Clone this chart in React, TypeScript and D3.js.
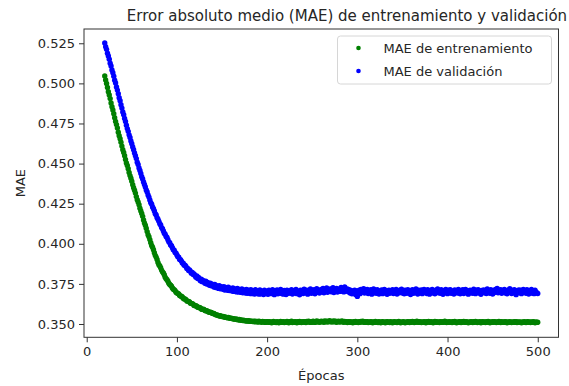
import React, { useRef, useEffect } from 'react';
import * as d3 from 'd3';

// one point per epoch, 20..500
const epochs = d3.range(20, 501);

const trainMAE = [
  0.5046, 0.5021, 0.4999, 0.4974, 0.4948, 0.4928, 0.4905, 0.4878, 0.4854, 0.4834,
  0.4811, 0.4786, 0.4763, 0.4743, 0.4722, 0.4696, 0.4674, 0.4655, 0.4633, 0.4609,
  0.4587, 0.4569, 0.4549, 0.4525, 0.4504, 0.4488, 0.4468, 0.4445, 0.4425, 0.4409,
  0.4390, 0.4368, 0.4349, 0.4334, 0.4316, 0.4294, 0.4275, 0.4261, 0.4243, 0.4222,
  0.4204, 0.4189, 0.4171, 0.4149, 0.4130, 0.4116, 0.4097, 0.4076, 0.4057, 0.4044,
  0.4026, 0.4007, 0.3990, 0.3978, 0.3963, 0.3944, 0.3928, 0.3917, 0.3902, 0.3884,
  0.3870, 0.3862, 0.3851, 0.3836, 0.3825, 0.3818, 0.3807, 0.3792, 0.3782, 0.3776,
  0.3766, 0.3754, 0.3746, 0.3742, 0.3735, 0.3724, 0.3717, 0.3714, 0.3708, 0.3698,
  0.3693, 0.3691, 0.3687, 0.3678, 0.3674, 0.3673, 0.3669, 0.3660, 0.3656, 0.3656,
  0.3652, 0.3644, 0.3641, 0.3641, 0.3637, 0.3630, 0.3627, 0.3627, 0.3624, 0.3616,
  0.3613, 0.3614, 0.3611, 0.3604, 0.3602, 0.3603, 0.3600, 0.3593, 0.3591, 0.3592,
  0.3590, 0.3584, 0.3582, 0.3583, 0.3580, 0.3575, 0.3573, 0.3574, 0.3572, 0.3567,
  0.3565, 0.3566, 0.3561, 0.3558, 0.3557, 0.3555, 0.3553, 0.3550, 0.3551, 0.3548,
  0.3546, 0.3547, 0.3545, 0.3542, 0.3543, 0.3540, 0.3539, 0.3540, 0.3537, 0.3535,
  0.3536, 0.3534, 0.3532, 0.3533, 0.3530, 0.3529, 0.3531, 0.3527, 0.3526, 0.3528,
  0.3524, 0.3525, 0.3523, 0.3521, 0.3524, 0.3520, 0.3521, 0.3519, 0.3518, 0.3521,
  0.3517, 0.3519, 0.3516, 0.3518, 0.3515, 0.3517, 0.3514, 0.3518, 0.3513, 0.3516,
  0.3512, 0.3517, 0.3513, 0.3515, 0.3511, 0.3516, 0.3512, 0.3514, 0.3510, 0.3515,
  0.3512, 0.3514, 0.3510, 0.3515, 0.3511, 0.3508, 0.3513, 0.3516, 0.3510, 0.3512,
  0.3509, 0.3514, 0.3511, 0.3507, 0.3513, 0.3516, 0.3510, 0.3512, 0.3515, 0.3509,
  0.3513, 0.3510, 0.3516, 0.3512, 0.3508, 0.3514, 0.3511, 0.3517, 0.3509, 0.3513,
  0.3510, 0.3515, 0.3512, 0.3508, 0.3514, 0.3510, 0.3516, 0.3513, 0.3509, 0.3512,
  0.3515, 0.3511, 0.3514, 0.3509, 0.3516, 0.3512, 0.3518, 0.3513, 0.3510, 0.3515,
  0.3511, 0.3517, 0.3513, 0.3510, 0.3515, 0.3519, 0.3512, 0.3516, 0.3511, 0.3514,
  0.3518, 0.3513, 0.3516, 0.3511, 0.3519, 0.3514, 0.3517, 0.3512, 0.3515, 0.3520,
  0.3514, 0.3517, 0.3512, 0.3516, 0.3519, 0.3513, 0.3517, 0.3511, 0.3515, 0.3518,
  0.3512, 0.3516, 0.3513, 0.3519, 0.3514, 0.3511, 0.3516, 0.3512, 0.3515, 0.3509,
  0.3514, 0.3511, 0.3515, 0.3510, 0.3513, 0.3508, 0.3514, 0.3511, 0.3516, 0.3510,
  0.3513, 0.3509, 0.3514, 0.3511, 0.3516, 0.3512, 0.3518, 0.3513, 0.3510, 0.3515,
  0.3511, 0.3514, 0.3509, 0.3513, 0.3510, 0.3515, 0.3512, 0.3508, 0.3513, 0.3511,
  0.3516, 0.3510, 0.3513, 0.3509, 0.3514, 0.3511, 0.3507, 0.3512, 0.3515, 0.3510,
  0.3513, 0.3508, 0.3512, 0.3515, 0.3510, 0.3513, 0.3509, 0.3514, 0.3511, 0.3508,
  0.3512, 0.3515, 0.3510, 0.3513, 0.3509, 0.3512, 0.3516, 0.3511, 0.3508, 0.3513,
  0.3510, 0.3514, 0.3511, 0.3507, 0.3513, 0.3510, 0.3515, 0.3512, 0.3509, 0.3514,
  0.3511, 0.3516, 0.3512, 0.3509, 0.3514, 0.3511, 0.3517, 0.3513, 0.3510, 0.3515,
  0.3512, 0.3509, 0.3513, 0.3510, 0.3515, 0.3512, 0.3508, 0.3514, 0.3511, 0.3516,
  0.3512, 0.3510, 0.3514, 0.3511, 0.3508, 0.3513, 0.3516, 0.3511, 0.3514, 0.3510,
  0.3513, 0.3509, 0.3515, 0.3512, 0.3510, 0.3514, 0.3511, 0.3517, 0.3512, 0.3509,
  0.3513, 0.3511, 0.3515, 0.3510, 0.3513, 0.3509, 0.3514, 0.3512, 0.3516, 0.3511,
  0.3508, 0.3513, 0.3510, 0.3515, 0.3512, 0.3509, 0.3514, 0.3511, 0.3516, 0.3513,
  0.3510, 0.3514, 0.3511, 0.3508, 0.3513, 0.3510, 0.3515, 0.3512, 0.3509, 0.3514,
  0.3511, 0.3516, 0.3512, 0.3509, 0.3513, 0.3510, 0.3514, 0.3508, 0.3512, 0.3515,
  0.3511, 0.3513, 0.3509, 0.3514, 0.3511, 0.3516, 0.3512, 0.3507, 0.3513, 0.3510,
  0.3514, 0.3511, 0.3515, 0.3512, 0.3509, 0.3513, 0.3510, 0.3516, 0.3512, 0.3509,
  0.3514, 0.3510, 0.3513, 0.3511, 0.3515, 0.3512, 0.3508, 0.3513, 0.3510, 0.3514,
  0.3511, 0.3509, 0.3513, 0.3510, 0.3515, 0.3511, 0.3514, 0.3509, 0.3512, 0.3510,
  0.3513, 0.3511, 0.3508, 0.3513, 0.3510, 0.3514, 0.3511, 0.3509, 0.3512, 0.3515,
  0.3510, 0.3512, 0.3509, 0.3513, 0.3510, 0.3514, 0.3511, 0.3508, 0.3512, 0.3510,
  0.3511,
];

const valMAE = [
  0.5252, 0.5229, 0.5212, 0.5188, 0.5171, 0.5150, 0.5126, 0.5109, 0.5084, 0.5066,
  0.5045, 0.5020, 0.5002, 0.4977, 0.4958, 0.4935, 0.4910, 0.4892, 0.4867, 0.4846,
  0.4822, 0.4805, 0.4781, 0.4763, 0.4739, 0.4718, 0.4701, 0.4679, 0.4663, 0.4641,
  0.4624, 0.4603, 0.4587, 0.4566, 0.4549, 0.4531, 0.4509, 0.4494, 0.4472, 0.4457,
  0.4438, 0.4418, 0.4404, 0.4385, 0.4370, 0.4354, 0.4335, 0.4323, 0.4304, 0.4291,
  0.4273, 0.4256, 0.4246, 0.4229, 0.4218, 0.4204, 0.4188, 0.4179, 0.4162, 0.4153,
  0.4140, 0.4125, 0.4117, 0.4101, 0.4094, 0.4080, 0.4066, 0.4060, 0.4045, 0.4039,
  0.4025, 0.4012, 0.4007, 0.3992, 0.3988, 0.3975, 0.3963, 0.3960, 0.3946, 0.3942,
  0.3930, 0.3919, 0.3917, 0.3902, 0.3901, 0.3892, 0.3880, 0.3879, 0.3866, 0.3867,
  0.3858, 0.3846, 0.3847, 0.3833, 0.3837, 0.3828, 0.3817, 0.3822, 0.3808, 0.3812,
  0.3802, 0.3791, 0.3799, 0.3784, 0.3790, 0.3781, 0.3770, 0.3779, 0.3764, 0.3772,
  0.3764, 0.3754, 0.3766, 0.3749, 0.3759, 0.3750, 0.3741, 0.3755, 0.3738, 0.3748,
  0.3740, 0.3731, 0.3746, 0.3727, 0.3738, 0.3731, 0.3722, 0.3739, 0.3719, 0.3733,
  0.3725, 0.3716, 0.3732, 0.3712, 0.3727, 0.3720, 0.3710, 0.3729, 0.3708, 0.3722,
  0.3716, 0.3706, 0.3725, 0.3703, 0.3719, 0.3712, 0.3700, 0.3721, 0.3699, 0.3715,
  0.3709, 0.3697, 0.3718, 0.3694, 0.3712, 0.3706, 0.3693, 0.3716, 0.3691, 0.3710,
  0.3703, 0.3690, 0.3714, 0.3689, 0.3708, 0.3701, 0.3687, 0.3713, 0.3690, 0.3706,
  0.3700, 0.3686, 0.3712, 0.3688, 0.3705, 0.3697, 0.3684, 0.3711, 0.3689, 0.3704,
  0.3698, 0.3685, 0.3710, 0.3692, 0.3703, 0.3689, 0.3714, 0.3696, 0.3683, 0.3707,
  0.3699, 0.3712, 0.3688, 0.3701, 0.3694, 0.3716, 0.3690, 0.3705, 0.3686, 0.3709,
  0.3697, 0.3684, 0.3711, 0.3702, 0.3691, 0.3706, 0.3695, 0.3713, 0.3687, 0.3700,
  0.3708, 0.3693, 0.3715, 0.3689, 0.3704, 0.3698, 0.3682, 0.3710, 0.3696, 0.3707,
  0.3690, 0.3717, 0.3701, 0.3694, 0.3711, 0.3686, 0.3705, 0.3699, 0.3718, 0.3692,
  0.3709, 0.3696, 0.3714, 0.3688, 0.3703, 0.3720, 0.3697, 0.3711, 0.3693, 0.3706,
  0.3715, 0.3700, 0.3722, 0.3695, 0.3710, 0.3704, 0.3724, 0.3698, 0.3713, 0.3707,
  0.3719, 0.3701, 0.3712, 0.3726, 0.3696, 0.3716, 0.3705, 0.3721, 0.3699, 0.3711,
  0.3717, 0.3703, 0.3728, 0.3708, 0.3722, 0.3700, 0.3731, 0.3712, 0.3706, 0.3719,
  0.3701, 0.3714, 0.3693, 0.3709, 0.3688, 0.3703, 0.3697, 0.3711, 0.3684, 0.3706,
  0.3672, 0.3694, 0.3710, 0.3689, 0.3715, 0.3699, 0.3706, 0.3720, 0.3693, 0.3711,
  0.3702, 0.3716, 0.3690, 0.3708, 0.3697, 0.3713, 0.3686, 0.3704, 0.3719, 0.3695,
  0.3709, 0.3692, 0.3714, 0.3700, 0.3687, 0.3706, 0.3696, 0.3712, 0.3689, 0.3703,
  0.3716, 0.3694, 0.3707, 0.3685, 0.3701, 0.3711, 0.3692, 0.3705, 0.3698, 0.3713,
  0.3690, 0.3708, 0.3699, 0.3715, 0.3687, 0.3702, 0.3694, 0.3710, 0.3696, 0.3717,
  0.3693, 0.3705, 0.3688, 0.3711, 0.3700, 0.3691, 0.3714, 0.3697, 0.3706, 0.3684,
  0.3703, 0.3713, 0.3692, 0.3708, 0.3695, 0.3718, 0.3699, 0.3687, 0.3710, 0.3701,
  0.3694, 0.3712, 0.3689, 0.3705, 0.3716, 0.3698, 0.3707, 0.3690, 0.3714, 0.3700,
  0.3686, 0.3709, 0.3697, 0.3715, 0.3693, 0.3704, 0.3688, 0.3711, 0.3702, 0.3719,
  0.3695, 0.3706, 0.3691, 0.3713, 0.3699, 0.3685, 0.3708, 0.3696, 0.3716, 0.3703,
  0.3689, 0.3710, 0.3698, 0.3714, 0.3692, 0.3705, 0.3700, 0.3687, 0.3712, 0.3697,
  0.3707, 0.3693, 0.3716, 0.3701, 0.3688, 0.3709, 0.3696, 0.3713, 0.3690, 0.3704,
  0.3715, 0.3699, 0.3708, 0.3686, 0.3703, 0.3711, 0.3694, 0.3706, 0.3691, 0.3717,
  0.3700, 0.3689, 0.3710, 0.3697, 0.3714, 0.3693, 0.3705, 0.3685, 0.3709, 0.3698,
  0.3712, 0.3695, 0.3704, 0.3690, 0.3718, 0.3701, 0.3707, 0.3692, 0.3713, 0.3699,
  0.3687, 0.3706, 0.3696, 0.3715, 0.3703, 0.3722, 0.3694, 0.3710, 0.3698, 0.3713,
  0.3691, 0.3708, 0.3700, 0.3716, 0.3693, 0.3705, 0.3688, 0.3711, 0.3697, 0.3720,
  0.3702, 0.3690, 0.3709, 0.3695, 0.3714, 0.3699, 0.3683, 0.3707, 0.3696, 0.3712,
  0.3694, 0.3710, 0.3689, 0.3703, 0.3716, 0.3698, 0.3706, 0.3691, 0.3713, 0.3700,
  0.3687, 0.3708, 0.3697, 0.3715, 0.3692, 0.3704, 0.3689, 0.3711, 0.3699, 0.3694,
  0.3690,
];

const xTicks = [0, 100, 200, 300, 400, 500];
const yTicks = [0.35, 0.375, 0.4, 0.425, 0.45, 0.475, 0.5, 0.525];
const xDomain = [-3, 523];
const yDomain = [0.3417, 0.5339];

const series = [
  { name: 'MAE de entrenamiento', color: '#008000', values: trainMAE },
  { name: 'MAE de validación', color: '#0000ff', values: valMAE },
];

const W = 569;
const H = 386;
const margin = { top: 29, right: 10.5, bottom: 48.7, left: 84 };
const font = '"DejaVu Sans", sans-serif';
const textColor = '#262626';

const App = () => {
  const svgRef = useRef<SVGSVGElement>(null);

  useEffect(() => {
    const svg = d3.select(svgRef.current);
    svg.selectAll('*').remove();

    const width = W - margin.left - margin.right;
    const height = H - margin.top - margin.bottom;

    const x = d3.scaleLinear().domain(xDomain).range([0, width]);
    const y = d3.scaleLinear().domain(yDomain).range([height, 0]);

    svg.append('rect').attr('width', W).attr('height', H).attr('fill', '#fff');

    const g = svg.append('g').attr('transform', `translate(${margin.left},${margin.top})`);

    // points, training first so validation sits on top
    series.forEach((s) => {
      g.append('g')
        .selectAll('circle')
        .data(s.values)
        .enter()
        .append('circle')
        .attr('cx', (d, i) => x(epochs[i]))
        .attr('cy', (d) => y(d))
        .attr('r', 2.7)
        .attr('fill', s.color);
    });

    // frame
    g.append('rect')
      .attr('width', width)
      .attr('height', height)
      .attr('fill', 'none')
      .attr('stroke', '#333')
      .attr('stroke-width', 1);

    // x axis
    const xAxis = g
      .append('g')
      .attr('transform', `translate(0,${height})`)
      .call(d3.axisBottom(x).tickValues(xTicks).tickSize(5).tickPadding(4).tickFormat(d3.format('d')));
    xAxis.select('.domain').remove();

    // y axis
    const yAxis = g
      .append('g')
      .call(d3.axisLeft(y).tickValues(yTicks).tickSize(5).tickPadding(4).tickFormat(d3.format('.3f')));
    yAxis.select('.domain').remove();

    [xAxis, yAxis].forEach((a) => {
      a.selectAll('line').attr('stroke', '#333');
      a.selectAll('text')
        .attr('fill', textColor)
        .style('font-family', font)
        .style('font-size', '13px');
    });

    // axis labels
    g.append('text')
      .attr('x', width / 2)
      .attr('y', height + 43)
      .attr('text-anchor', 'middle')
      .attr('fill', textColor)
      .style('font-family', font)
      .style('font-size', '13px')
      .text('Épocas');

    g.append('text')
      .attr('transform', `translate(${-margin.left + 25},${height / 2}) rotate(-90)`)
      .attr('text-anchor', 'middle')
      .attr('fill', textColor)
      .style('font-family', font)
      .style('font-size', '13px')
      .text('MAE');

    // title
    svg.append('text')
      .attr('x', 347)
      .attr('y', 21)
      .attr('text-anchor', 'middle')
      .attr('fill', textColor)
      .style('font-family', font)
      .style('font-size', '15px')
      .text('Error absoluto medio (MAE) de entrenamiento y validación');

    // legend
    const legend = g.append('g').attr('transform', `translate(${width - 221},7)`);
    legend
      .append('rect')
      .attr('width', 214)
      .attr('height', 48)
      .attr('rx', 3)
      .attr('fill', '#fff')
      .attr('stroke', '#d6d6d6');

    series.forEach((s, i) => {
      const row = legend.append('g').attr('transform', `translate(0,${12 + i * 23})`);
      row.append('circle').attr('cx', 21).attr('cy', 0).attr('r', 2.3).attr('fill', s.color);
      row
        .append('text')
        .attr('x', 46)
        .attr('y', 0)
        .attr('dy', '0.35em')
        .attr('fill', textColor)
        .style('font-family', font)
        .style('font-size', '13px')
        .text(s.name);
    });
  }, []);

  return (
    <div style={{ position: 'absolute', left: 0, top: 0 }}>
      <svg ref={svgRef} width={W} height={H}></svg>
    </div>
  );
};

export default App;
